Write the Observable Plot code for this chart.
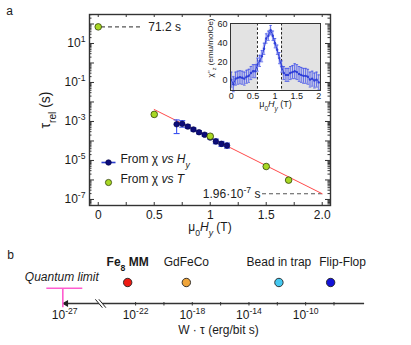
<!DOCTYPE html>
<html><head><meta charset="utf-8">
<script src="https://cdn.jsdelivr.net/npm/d3@7"></script>
<script src="https://cdn.jsdelivr.net/npm/@observablehq/plot@0.6"></script>
<style>
body{margin:0;background:#fff;}
#wrap{position:relative;width:411px;height:345px;overflow:hidden;background:#fff;}
</style></head><body><div id="wrap"></div>
<script>
// ---------- data: panel a (main) ----------
const hyField   = [0.70, 0.75, 0.80, 0.85, 0.90, 0.95, 1.00, 1.05, 1.10, 1.15];
const hyTau     = [7.2e-4, 7.6e-4, 5.5e-4, 3.9e-4, 2.8e-4, 2.1e-4, 1.5e-4, 9.5e-5, 7.1e-5, 5.8e-5];
const hyTauLow  = [2.4e-4, 5.1e-4, 4.4e-4, 3.2e-4, 2.3e-4, 1.75e-4, 1.25e-4, 7.2e-5, 5.3e-5, 4.3e-5];
const hyTauHigh = [1.2e-3, 1.1e-3, 6.8e-4, 4.7e-4, 3.4e-4, 2.5e-4, 1.8e-4, 1.25e-4, 9.5e-5, 7.8e-5];
const tField = [0, 0.5, 1.0, 1.5, 1.7];
const tTau   = [71.2, 2.3e-3, 1.75e-4, 4.9e-6, 9.8e-7];
const fitField = [0.5, 2.0];
const fitTau   = [4.1e-3, 1.96e-7];
const fitEndLabel = "1.96·10^{-7} s";
const yTickValues = [1e1, 1e-1, 1e-3, 1e-5, 1e-7];
const yTickLabels = ["10^{1}", "10^{-1}", "10^{-3}", "10^{-5}", "10^{-7}"];
const xTickValues = [0, 0.5, 1, 1.5, 2];
const xTickLabels = ["0", "0.5", "1", "1.5", "2.0"];
const legendLabels = ["From χ ~{vs} ~{H}_{~{y}}", "From χ ~{vs} ~{T}"];

// ---------- data: inset ----------
const insetField = [0,0.05,0.1,0.15,0.2,0.25,0.3,0.35,0.4,0.45,0.5,0.55,0.6,0.65,0.7,0.75,0.8,0.85,0.9,0.95,1.0,1.05,1.1,1.15,1.2,1.25,1.3,1.35,1.4,1.45,1.5,1.55,1.6,1.65,1.7,1.75,1.8,1.85,1.9,1.95,2.0];
const insetChi   = [1,-4,2,3,3.5,3,2,4,5,8,10,10,17,21,26,34,45,48,54,48,40,33,24,15,8,6,6,8,9,10,9,7,6,5,5,4,1,2,0,1,-2];
const insetErr   = [8,8,7,7,7,7,7,7,7,7,7,7,7,6,6,6,5,5,5,5,5,5,6,6,7,7,7,7,7,8,8,8,8,8,8,8,8,8,8,8,8];
const insetWindow = [0.6, 1.15];
const insetYTicks = [0, 20, 40, 60];
const insetXTicks = [0, 0.5, 1, 1.5, 2];
const insetXLabels = ["0", "0.5", "1", "1.5", "2"];

// ---------- data: panel b ----------
const bNames  = ["!{Fe_{8} MM}", "GdFeCo", "Bead in trap", "Flip-Flop"];
const bEnergy = [2.75e-23, 3.8e-19, 1.3e-12, 5.8e-9];
const quantumLimit = 7.3e-28;
const bTickValues = [1e-22, 1e-20, 1e-18, 1e-16, 1e-14, 1e-12, 1e-10, 1e-8];
const bLabelValues = [1e-27, 1e-22, 1e-18, 1e-14, 1e-10];
const bLabelTexts = ["10^{-27}", "10^{-22}", "10^{-18}", "10^{-14}", "10^{-10}"];
const bAxisRange = [10 ** -27.05, 10 ** -5.84];
const bBreak = [10 ** -24.45];

// ---------- styles ----------
const FONT = "'Liberation Sans', Arial, Helvetica, sans-serif";
const GREEN = "#a8d824", EB = "#3a52f0", NAVY = "#0c0c7a";
const bColors = ["#ee1a12", "#f0a53a", "#44c8f0", "#1212d8"];

// ---------- rich text helper (sub/sup/italic/bold) ----------
function parseMarkup(s) {
  let i = 0; const out = [];
  function walk(style) {
    let buf = "";
    const flush = () => { if (buf) { out.push({text: buf, ...style}); buf = ""; } };
    while (i < s.length) {
      const c = s[i];
      if ("^_~!".includes(c) && s[i + 1] === "{") {
        flush(); i += 2;
        const st = {...style};
        if (c === "^") st.shift = "super";
        if (c === "_") st.shift = "sub";
        if (c === "~") st.italic = true;
        if (c === "!") st.bold = true;
        walk(st);
      } else if (c === "}") { i++; flush(); return; }
      else { buf += c; i++; }
    }
    flush();
  }
  walk({});
  return out;
}
function rich(root) {
  root.querySelectorAll("text").forEach(t => {
    const targets = t.querySelector("tspan") ? [...t.querySelectorAll("tspan")] : [t];
    targets.forEach(el => {
      const s = el.textContent;
      if (!/[\^_~!]\{/.test(s)) return;
      const segs = parseMarkup(s);
      el.textContent = "";
      segs.forEach(g => {
        const ts = document.createElementNS("http://www.w3.org/2000/svg", "tspan");
        ts.textContent = g.text;
        if (g.shift) { ts.setAttribute("baseline-shift", g.shift); ts.setAttribute("font-size", "72%"); }
        if (g.italic) ts.setAttribute("font-style", "italic");
        if (g.bold) ts.setAttribute("font-weight", "bold");
        el.appendChild(ts);
      });
    });
  });
}
const wrap = document.getElementById("wrap");
function place(svg, left, top) {
  svg.style.position = "absolute";
  svg.style.left = left + "px";
  svg.style.top = top + "px";
  rich(svg);
  wrap.appendChild(svg);
}
const cap = w => ({draw(c) { c.moveTo(-w, 0); c.lineTo(w, 0); }});

// ---------- panel a: main ----------
const hyData = hyField.map((x, i) => ({x, y: hyTau[i], lo: hyTauLow[i], hi: hyTauHigh[i]}));
const tData = tField.map((x, i) => ({x, y: tTau[i]}));
const fitData = fitField.map((x, i) => ({x, y: fitTau[i]}));
const yDom = [10 ** -7.31, 10 ** 2.487];
const majorY = [], minorY = [];
for (let e = -8; e <= 2; e++) {
  if (10 ** e >= yDom[0] && 10 ** e <= yDom[1]) majorY.push(10 ** e);
  for (let k = 2; k <= 9; k++) { const v = k * 10 ** e; if (v >= yDom[0] && v <= yDom[1]) minorY.push(v); }
}
const xMinor = [0, 0.25, 0.5, 0.75, 1, 1.25, 1.5, 1.75, 2];
const mW = 411, mH = 250, mL = 89, mR = 81, mT = 14, mB = 45;
const fw = mW - mL - mR, fh = mH - mT - mB;

const main = Plot.plot({
  width: mW, height: mH, marginLeft: mL, marginRight: mR, marginTop: mT, marginBottom: mB,
  style: {background: "none", fontFamily: FONT, fontSize: "12px", color: "#1a1a1a", overflow: "visible"},
  x: {domain: [-0.078, 2.074], axis: null},
  y: {type: "log", domain: yDom, axis: null},
  marks: [
    Plot.ruleY([tTau[0]], {y: d => d, stroke: "#555", strokeDasharray: "4,3", strokeWidth: 1.2, insetLeft: 12, insetRight: 187}),
    Plot.ruleY([fitTau[1]], {y: d => d, stroke: "#555", strokeDasharray: "4,3", strokeWidth: 1.2, insetLeft: 173, insetRight: 8}),
    Plot.line(fitData, {x: "x", y: "y", stroke: "#ff4a4a", strokeWidth: 1}),
    Plot.ruleX(hyData, {x: "x", y1: "lo", y2: "hi", stroke: EB, strokeWidth: 1.1}),
    Plot.dot(hyData, {x: "x", y: "lo", symbol: cap(3), stroke: EB, fill: "none", strokeWidth: 1.1}),
    Plot.dot(hyData, {x: "x", y: "hi", symbol: cap(3), stroke: EB, fill: "none", strokeWidth: 1.1}),
    Plot.dot(hyData, {x: "x", y: "y", r: 2.8, fill: NAVY, stroke: "#000040", strokeWidth: 0.6}),
    Plot.dot(tData, {x: "x", y: "y", r: 3.3, fill: GREEN, stroke: "#33420a", strokeWidth: 0.8}),
    // frame and inward ticks
    Plot.frame({stroke: "#333", strokeWidth: 1.4}),
    Plot.tickY(majorY, {y: d => d, insetRight: fw - 5, stroke: "#333"}),
    Plot.tickY(minorY, {y: d => d, insetRight: fw - 2.5, stroke: "#333"}),
    Plot.tickY(majorY, {y: d => d, insetLeft: fw - 5, stroke: "#333"}),
    Plot.tickY(minorY, {y: d => d, insetLeft: fw - 2.5, stroke: "#333"}),
    Plot.tickX(xMinor, {x: d => d, insetTop: fh - 3, stroke: "#333"}),
    Plot.tickX(xMinor, {x: d => d, insetBottom: fh - 3, stroke: "#333"}),
    // tick labels
    Plot.text(yTickValues, {y: d => d, text: (d, i) => yTickLabels[i], frameAnchor: "left", textAnchor: "end", dx: -4, fontSize: 12}),
    Plot.text(xTickValues, {x: d => d, text: (d, i) => xTickLabels[i], frameAnchor: "bottom", lineAnchor: "top", dy: 5, fontSize: 12}),
    // axis titles
    Plot.text(["τ_{rel} (s)"], {text: d => d, frameAnchor: "left", textAnchor: "middle", rotate: -90, dx: -44, fontSize: 14}),
    Plot.text(["μ_{0}~{H}_{~{y}} (T)"], {text: d => d, frameAnchor: "bottom", dy: 25, fontSize: 12}),
    // annotations
    Plot.text([tTau[0]], {x: () => tField[0], y: d => d, text: d => d + " s", textAnchor: "start", dx: 50, fontSize: 12, fill: "#222"}),
    Plot.text([fitTau[1]], {y: d => d, text: () => fitEndLabel, frameAnchor: "left", textAnchor: "end", dx: 171, fontSize: 12, fill: "#222"}),
    // legend
    Plot.dot([0], {frameAnchor: "bottom-left", dx: 19, dy: -43, symbol: cap(7), stroke: "#2a3ccc", strokeWidth: 1.6, fill: "none"}),
    Plot.dot([0], {frameAnchor: "bottom-left", dx: 19, dy: -43, r: 2.8, fill: NAVY, stroke: "#000040", strokeWidth: 0.6}),
    Plot.dot([0], {frameAnchor: "bottom-left", dx: 19, dy: -23, r: 3.1, fill: GREEN, stroke: "#33420a", strokeWidth: 0.8}),
    Plot.text([legendLabels[0]], {text: d => d, frameAnchor: "bottom-left", textAnchor: "start", dx: 31, dy: -43, fontSize: 12}),
    Plot.text([legendLabels[1]], {text: d => d, frameAnchor: "bottom-left", textAnchor: "start", dx: 31, dy: -23, fontSize: 12}),
    // panel label
    Plot.text(["a"], {text: d => d, frameAnchor: "top-left", textAnchor: "middle", dx: -80, dy: -8, fontSize: 12})
  ]
});
place(main, 0, 0);

// ---------- inset ----------
const insetData = insetField.map((x, i) => ({x, y: insetChi[i], lo: insetChi[i] - insetErr[i], hi: insetChi[i] + insetErr[i]}));
const inset = Plot.plot({
  width: 130, height: 118, marginLeft: 35, marginRight: 5, marginTop: 23, marginBottom: 28,
  style: {background: "none", fontFamily: FONT, fontSize: "9px", color: "#1a1a1a", overflow: "visible"},
  x: {domain: [-0.016, 2.04], axis: null},
  y: {domain: [-10.7, 61.1], axis: null},
  marks: [
    Plot.frame({fill: "#e3e3e3"}),
    Plot.rect([insetWindow], {x1: d => d[0], x2: d => d[1], fill: "#fff"}),
    Plot.ruleX(insetWindow, {x: d => d, stroke: "#222", strokeDasharray: "2.5,2", strokeWidth: 1}),
    Plot.areaY(insetData, {x: "x", y1: "lo", y2: "hi", fill: "#8d95ef", fillOpacity: 0.28}),
    Plot.ruleX(insetData, {x: "x", y1: "lo", y2: "hi", stroke: "#4656e8", strokeWidth: 0.8}),
    Plot.dot(insetData, {x: "x", y: "lo", symbol: cap(1.3), stroke: "#4656e8", fill: "none", strokeWidth: 0.8}),
    Plot.dot(insetData, {x: "x", y: "hi", symbol: cap(1.3), stroke: "#4656e8", fill: "none", strokeWidth: 0.8}),
    Plot.line(insetData, {x: "x", y: "y", stroke: "#2f3fd8", strokeWidth: 1}),
    Plot.dot(insetData, {x: "x", y: "y", r: 1.2, fill: "#2f3fd8"}),
    Plot.frame({stroke: "#333", strokeWidth: 1}),
    Plot.text(insetYTicks, {y: d => d, text: d => String(d), frameAnchor: "left", textAnchor: "end", dx: -3, fontSize: 9}),
    Plot.text(insetXTicks, {x: d => d, text: (d, i) => insetXLabels[i], frameAnchor: "bottom", lineAnchor: "top", dy: 2, fontSize: 9}),
    Plot.text(["χ''_{z} (emu/molOe)"], {text: d => d, frameAnchor: "left", textAnchor: "middle", rotate: -90, dx: -20, dy: -9, fontSize: 8}),
    Plot.text(["μ_{0}~{H}_{~{y}} (T)"], {text: d => d, frameAnchor: "bottom", dy: 16, fontSize: 9})
  ]
});
place(inset, 195, 0);

// ---------- panel b ----------
const bData = bNames.map((name, i) => ({name, w: bEnergy[i]}));
const breakFill = {draw(c) { c.moveTo(-5.5, -4.2); c.lineTo(-2, -4.2); c.lineTo(5, 4.2); c.lineTo(1.5, 4.2); c.closePath(); }};
const breakLines = {draw(c) { c.moveTo(-5.5, -4.2); c.lineTo(1.5, 4.2); c.moveTo(-2, -4.2); c.lineTo(5, 4.2); }};
const tee = {draw(c) { c.moveTo(-16.5, 0); c.lineTo(19.5, 0); c.moveTo(0, 0); c.lineTo(0, 19); }};
const panelB = Plot.plot({
  width: 411, height: 100, marginLeft: 43, marginRight: 35, marginTop: 0, marginBottom: 42,
  style: {background: "none", fontFamily: FONT, fontSize: "12px", color: "#1a1a1a", overflow: "visible"},
  x: {type: "log", domain: [10 ** -28.5, 1e-5], axis: null},
  y: {domain: [0, 1], axis: null},
  marks: [
    Plot.ruleY([0], {x1: bAxisRange[0], x2: bAxisRange[1], stroke: "#333", strokeWidth: 1.3}),
    Plot.dot([bAxisRange[0]], {x: d => d, y: () => 0, symbol: "triangle", rotate: -90, r: 2.6, dx: 2, fill: "#222", stroke: "none"}),
    Plot.tickX(bTickValues, {x: d => d, insetTop: 57, insetBottom: -2.5, stroke: "#333"}),
    Plot.dot(bBreak, {x: d => d, frameAnchor: "bottom", symbol: breakFill, fill: "#fff", stroke: "none"}),
    Plot.dot(bBreak, {x: d => d, frameAnchor: "bottom", symbol: breakLines, fill: "none", stroke: "#222", strokeWidth: 1}),
    Plot.dot([quantumLimit], {x: d => d, frameAnchor: "bottom", dy: -15.3, symbol: tee, fill: "none", stroke: "#ff5ccf", strokeWidth: 1.6}),
    Plot.text(["Quantum limit"], {x: () => quantumLimit, text: d => d, frameAnchor: "bottom", dy: -23, dx: -1, fontStyle: "italic", fontSize: 12}),
    Plot.text(bLabelValues, {x: d => d, text: (d, i) => bLabelTexts[i], frameAnchor: "bottom", lineAnchor: "top", dy: 7, fontSize: 12}),
    Plot.dot(bData, {x: "w", frameAnchor: "bottom", dy: -21, r: 4.2, fill: (d, i) => bColors[i], stroke: "#222", strokeWidth: 0.9}),
    Plot.text(bData.slice(0, 3), {x: "w", text: "name", frameAnchor: "bottom", dy: -38, fontSize: 12}),
    Plot.text(bData.slice(3), {x: "w", text: "name", frameAnchor: "bottom", dy: -38, dx: 12, fontSize: 12}),
    Plot.text(["W · τ (erg/bit s)"], {text: d => d, frameAnchor: "bottom", dx: 8.5, dy: 30, fontSize: 12}),
    Plot.text(["b"], {text: d => d, frameAnchor: "top-left", textAnchor: "middle", dx: -33, dy: 5, fontSize: 12})
  ]
});
place(panelB, 0, 245);
</script>
</body></html>
